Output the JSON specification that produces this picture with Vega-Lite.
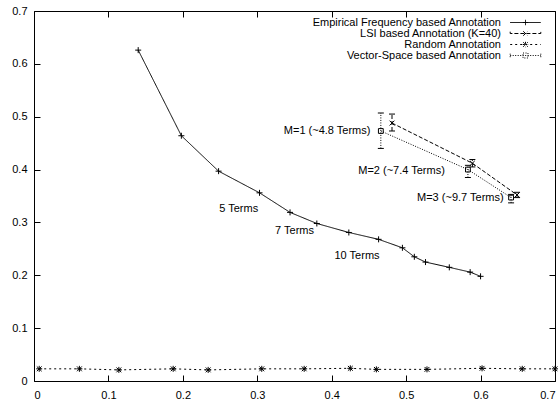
{
  "$schema": "https://vega.github.io/schema/vega-lite/v6.json",
  "autosize": "none",
  "width": 521,
  "height": 370,
  "padding": {"left": 34, "top": 11, "right": 3, "bottom": 24},
  "background": "white",
  "config": {
    "view": {"stroke": null},
    "font": "Liberation Sans",
    "axis": {"grid": false, "title": null, "domainColor": "black", "tickColor": "black", "labelColor": "black", "labelFontSize": 11, "labelFont": "Liberation Sans", "tickSize": -6, "domainWidth": 1, "tickWidth": 1}
  },
  "datasets": {
    "main": [
      {"series": "Empirical Frequency based Annotation", "x": 0.140, "y": 0.626},
      {"series": "Empirical Frequency based Annotation", "x": 0.198, "y": 0.464},
      {"series": "Empirical Frequency based Annotation", "x": 0.248, "y": 0.397},
      {"series": "Empirical Frequency based Annotation", "x": 0.303, "y": 0.356},
      {"series": "Empirical Frequency based Annotation", "x": 0.344, "y": 0.319},
      {"series": "Empirical Frequency based Annotation", "x": 0.380, "y": 0.298},
      {"series": "Empirical Frequency based Annotation", "x": 0.423, "y": 0.281},
      {"series": "Empirical Frequency based Annotation", "x": 0.463, "y": 0.268},
      {"series": "Empirical Frequency based Annotation", "x": 0.495, "y": 0.252},
      {"series": "Empirical Frequency based Annotation", "x": 0.511, "y": 0.235},
      {"series": "Empirical Frequency based Annotation", "x": 0.526, "y": 0.225},
      {"series": "Empirical Frequency based Annotation", "x": 0.558, "y": 0.215},
      {"series": "Empirical Frequency based Annotation", "x": 0.586, "y": 0.206},
      {"series": "Empirical Frequency based Annotation", "x": 0.600, "y": 0.198},
      {"series": "LSI based Annotation (K=40)", "x": 0.481, "y": 0.488, "lo": 0.473, "hi": 0.505},
      {"series": "LSI based Annotation (K=40)", "x": 0.589, "y": 0.412, "lo": 0.405, "hi": 0.419},
      {"series": "LSI based Annotation (K=40)", "x": 0.649, "y": 0.352, "lo": 0.347, "hi": 0.357},
      {"series": "Random Annotation", "x": 0.007, "y": 0.023},
      {"series": "Random Annotation", "x": 0.061, "y": 0.023},
      {"series": "Random Annotation", "x": 0.114, "y": 0.021},
      {"series": "Random Annotation", "x": 0.187, "y": 0.023},
      {"series": "Random Annotation", "x": 0.234, "y": 0.021},
      {"series": "Random Annotation", "x": 0.306, "y": 0.023},
      {"series": "Random Annotation", "x": 0.363, "y": 0.023},
      {"series": "Random Annotation", "x": 0.425, "y": 0.024},
      {"series": "Random Annotation", "x": 0.460, "y": 0.022},
      {"series": "Random Annotation", "x": 0.528, "y": 0.022},
      {"series": "Random Annotation", "x": 0.602, "y": 0.024},
      {"series": "Random Annotation", "x": 0.656, "y": 0.023},
      {"series": "Random Annotation", "x": 0.700, "y": 0.023},
      {"series": "Vector-Space based Annotation", "x": 0.466, "y": 0.473, "lo": 0.440, "hi": 0.507},
      {"series": "Vector-Space based Annotation", "x": 0.583, "y": 0.400, "lo": 0.385, "hi": 0.408},
      {"series": "Vector-Space based Annotation", "x": 0.641, "y": 0.347, "lo": 0.337, "hi": 0.353}
    ],
    "labelsRight": [
      {"label": "M=1 (~4.8 Terms)", "x": 0.452, "y": 0.473},
      {"label": "M=2 (~7.4 Terms)", "x": 0.552, "y": 0.397},
      {"label": "M=3 (~9.7 Terms)", "x": 0.631, "y": 0.347}
    ],
    "labelsCenter": [
      {"label": "5 Terms", "x": 0.275, "y": 0.325},
      {"label": "7 Terms", "x": 0.350, "y": 0.284},
      {"label": "10 Terms", "x": 0.434, "y": 0.236}
    ]
  },
  "resolve": {"axis": {"x": "independent", "y": "independent"}},
  "layer": [
    {
      "data": {"name": "main"},
      "mark": {"type": "line", "color": "black", "strokeWidth": 1, "clip": true},
      "encoding": {
        "x": {"field": "x", "type": "quantitative", "scale": {"domain": [0, 0.7], "nice": false, "zero": false}, "axis": {"orient": "bottom", "values": [0, 0.1, 0.2, 0.3, 0.4, 0.5, 0.6, 0.7], "format": "~g", "labelPadding": 14}},
        "y": {"field": "y", "type": "quantitative", "scale": {"domain": [0, 0.7], "nice": false, "zero": false}, "axis": {"orient": "left", "values": [0, 0.1, 0.2, 0.3, 0.4, 0.5, 0.6, 0.7], "format": "~g", "labelPadding": 13}},
        "strokeDash": {
          "field": "series", "type": "nominal",
          "scale": {"domain": ["Empirical Frequency based Annotation", "LSI based Annotation (K=40)", "Random Annotation", "Vector-Space based Annotation"], "range": [[1, 0], [4, 2], [2, 3], [1, 1.5]]},
          "legend": {
            "title": null, "orient": "none", "legendX": 486, "legendY": 6, "labelAlign": "right", "labelOffset": -30, "labelLimit": 0, "labelFontSize": 11, "labelFont": "Liberation Sans", "labelColor": "black",
            "symbolSize": 81, "symbolStrokeColor": "black", "symbolStrokeWidth": 1, "rowPadding": -1, "padding": 0,
            "encode": {"symbols": {"update": {"shape": {"signal": "datum.value == 'Empirical Frequency based Annotation' ? 'M-3.4,0L3.4,0M-0.6,0L0.6,0M0,-0.6L0,0.6' : datum.value == 'LSI based Annotation (K=40)' ? 'M-3.4,-0.4L-3.4,0L3.4,0L3.4,-0.4M-0.5,-0.5L0.5,0.5M-0.5,0.5L0.5,-0.5' : datum.value == 'Random Annotation' ? 'M-3.4,0L3.4,0M-0.5,-0.5L0.5,0.5M-0.5,0.5L0.5,-0.5M-0.6,0L0.6,0M0,-0.6L0,0.6' : 'M-3.4,-0.4L-3.4,0.4M-3.4,0L3.4,0M3.4,-0.4L3.4,0.4M-0.55,-0.55L0.55,-0.55L0.55,0.55L-0.55,0.55Z'"}}}}
          }
        }
      }
    },
    {
      "data": {"name": "main"},
      "transform": [{"filter": "datum.series == 'Empirical Frequency based Annotation'"}],
      "mark": {"type": "point", "shape": "M-1,0L1,0M0,-1L0,1", "filled": false, "stroke": "black", "strokeWidth": 1, "size": 36, "opacity": 1},
      "encoding": {
        "x": {"field": "x", "type": "quantitative", "axis": null},
        "y": {"field": "y", "type": "quantitative", "axis": null}
      }
    },
    {
      "data": {"name": "main"},
      "transform": [{"filter": "datum.series == 'LSI based Annotation (K=40)'"}],
      "mark": {"type": "point", "shape": "M-0.8,-0.8L0.8,0.8M-0.8,0.8L0.8,-0.8", "filled": false, "stroke": "black", "strokeWidth": 1, "size": 36, "opacity": 1},
      "encoding": {
        "x": {"field": "x", "type": "quantitative", "axis": null},
        "y": {"field": "y", "type": "quantitative", "axis": null}
      }
    },
    {
      "data": {"name": "main"},
      "transform": [{"filter": "datum.series == 'Random Annotation'"}],
      "mark": {"type": "point", "shape": "M-0.8,-0.8L0.8,0.8M-0.8,0.8L0.8,-0.8M-1,0L1,0M0,-1L0,1", "filled": false, "stroke": "black", "strokeWidth": 1, "size": 36, "opacity": 1},
      "encoding": {
        "x": {"field": "x", "type": "quantitative", "axis": null},
        "y": {"field": "y", "type": "quantitative", "axis": null}
      }
    },
    {
      "data": {"name": "main"},
      "transform": [{"filter": "datum.series == 'Vector-Space based Annotation'"}],
      "mark": {"type": "point", "shape": "M-0.8,-0.8L0.8,-0.8L0.8,0.8L-0.8,0.8Z", "filled": false, "stroke": "black", "strokeWidth": 1, "size": 36, "opacity": 1},
      "encoding": {
        "x": {"field": "x", "type": "quantitative", "axis": null},
        "y": {"field": "y", "type": "quantitative", "axis": null}
      }
    },
    {
      "data": {"name": "main"},
      "transform": [{"filter": "isValid(datum.lo)"}],
      "mark": {"type": "rule", "color": "black", "strokeWidth": 1},
      "encoding": {
        "x": {"field": "x", "type": "quantitative", "axis": null},
        "y": {"field": "lo", "type": "quantitative", "axis": null},
        "y2": {"field": "hi"},
        "strokeDash": {"field": "series", "type": "nominal", "legend": null}
      }
    },
    {
      "data": {"name": "main"},
      "transform": [{"filter": "isValid(datum.lo)"}, {"fold": ["lo", "hi"], "as": ["end", "v"]}],
      "mark": {"type": "point", "shape": "M-1,0L1,0", "size": 36, "filled": false, "stroke": "black", "strokeWidth": 1, "opacity": 1},
      "encoding": {
        "x": {"field": "x", "type": "quantitative", "axis": null},
        "y": {"field": "v", "type": "quantitative", "axis": null}
      }
    },
    {
      "data": {"name": "labelsRight"},
      "mark": {"type": "text", "align": "right", "baseline": "middle", "fontSize": 11, "font": "Liberation Sans", "color": "black"},
      "encoding": {
        "x": {"field": "x", "type": "quantitative", "axis": null},
        "y": {"field": "y", "type": "quantitative", "axis": null},
        "text": {"field": "label"}
      }
    },
    {
      "data": {"name": "labelsCenter"},
      "mark": {"type": "text", "align": "center", "baseline": "middle", "fontSize": 11, "font": "Liberation Sans", "color": "black"},
      "encoding": {
        "x": {"field": "x", "type": "quantitative", "axis": null},
        "y": {"field": "y", "type": "quantitative", "axis": null},
        "text": {"field": "label"}
      }
    },
    {
      "data": {"name": "labelsCenter"},
      "mark": {"type": "point", "opacity": 0},
      "encoding": {
        "x": {"field": "x", "type": "quantitative", "axis": {"orient": "top", "values": [0, 0.1, 0.2, 0.3, 0.4, 0.5, 0.6, 0.7], "labels": false}},
        "y": {"field": "y", "type": "quantitative", "axis": {"orient": "right", "values": [0, 0.1, 0.2, 0.3, 0.4, 0.5, 0.6, 0.7], "labels": false}}
      }
    }
  ]
}
